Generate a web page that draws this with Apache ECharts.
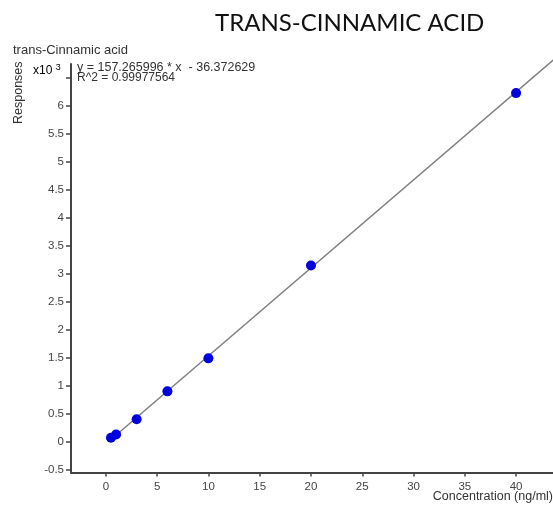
<!DOCTYPE html>
<html>
<head>
<meta charset="utf-8">
<script src="https://cdn.jsdelivr.net/npm/echarts@6/dist/echarts.min.js"></script>
<style>html,body{margin:0;padding:0;background:#fff}#c{width:553px;height:507px}</style>
</head>
<body>
<div id="c"></div>
<script>
// Data (responses in x10^3)
const concentrations = [0.5, 1, 3, 6, 10, 20, 40];
const responses = [0.07, 0.13, 0.40, 0.90, 1.49, 3.15, 6.23];
// Fitted line endpoints
const fitX = [0.5, 44];
const fitY = [0.04, 6.88];
const xTicks = [0, 5, 10, 15, 20, 25, 30, 35, 40];
const yTicks = [-0.5, 0, 0.5, 1, 1.5, 2, 2.5, 3, 3.5, 4, 4.5, 5, 5.5, 6, 6.5];
const yLabels = [-0.5, 0, 0.5, 1, 1.5, 2, 2.5, 3, 3.5, 4, 4.5, 5, 5.5, 6];
const titleText = 'TRANS-CINNAMIC ACID';
const compoundText = 'trans-Cinnamic acid';
const eqText = 'y = 157.265996 * x  - 36.372629';
const r2Text = 'R^2 = 0.99977564';
const xName = 'Concentration (ng/ml)';
const yName = 'Responses';

const chart = echarts.init(document.getElementById('c'), null, {renderer: 'canvas'});
const font = 'Liberation Sans, Arial, sans-serif';
const pts = concentrations.map((x, i) => [x, responses[i]]);
const fit = fitX.map((x, i) => [x, fitY[i]]);
chart.setOption({
  animation: false,
  backgroundColor: '#fff',
  grid: {left: 71, top: 64, right: 0, bottom: 34.5, containLabel: false},
  xAxis: {
    type: 'value', min: -3.4, max: 43.6,
    splitLine: {show: false},
    axisLine: {show: true, onZero: false, lineStyle: {color: '#444', width: 2}},
    axisTick: {show: true, length: 4, customValues: xTicks, lineStyle: {color: '#444', width: 1.5}},
    axisLabel: {customValues: xTicks, color: '#444', fontSize: 11.5, fontFamily: font, margin: 8}
  },
  yAxis: {
    type: 'value', min: -0.55, max: 6.75,
    splitLine: {show: false},
    axisLine: {show: true, onZero: false, lineStyle: {color: '#444', width: 2}},
    axisTick: {show: true, length: 5, customValues: yTicks, lineStyle: {color: '#444', width: 1.5}},
    axisLabel: {customValues: yLabels, color: '#444', fontSize: 11.5, fontFamily: font, margin: 7}
  },
  series: [
    {type: 'line', data: fit, showSymbol: false, clip: false, lineStyle: {color: '#808080', width: 1.5}, z: 2},
    {type: 'scatter', data: pts, symbolSize: 10, itemStyle: {color: '#0000dd', opacity: 1}, z: 3}
  ],
  graphic: [
    {type: 'text', left: 215, top: 11, style: {text: titleText, font: '24px Lato, "Open Sans", sans-serif', fill: '#111'}},
    {type: 'text', left: 13, top: 44, style: {text: compoundText, font: '13px ' + font, fill: '#333'}},
    {type: 'text', left: 77, top: 61, style: {text: eqText, font: '12.5px ' + font, fill: '#333'}},
    {type: 'text', left: 77, top: 72, style: {text: r2Text, font: '12px ' + font, fill: '#333'}},
    {type: 'text', left: 33, top: 63, style: {
      text: '{a|x10 }{b|3}', rich: {a: {fontSize: 12, fontFamily: font, color: '#333'}, b: {fontSize: 9, fontFamily: font, color: '#333', verticalAlign: 'top', padding: [0,0,6,0]}}
    }},
    {type: 'text', x: 12, y: 124, rotation: Math.PI / 2, style: {text: yName, font: '12.5px ' + font, fill: '#333'}},
    {type: 'text', right: 0, top: 490, style: {text: xName, font: '12.5px ' + font, fill: '#333'}}
  ]
});
</script>
</body>
</html>
